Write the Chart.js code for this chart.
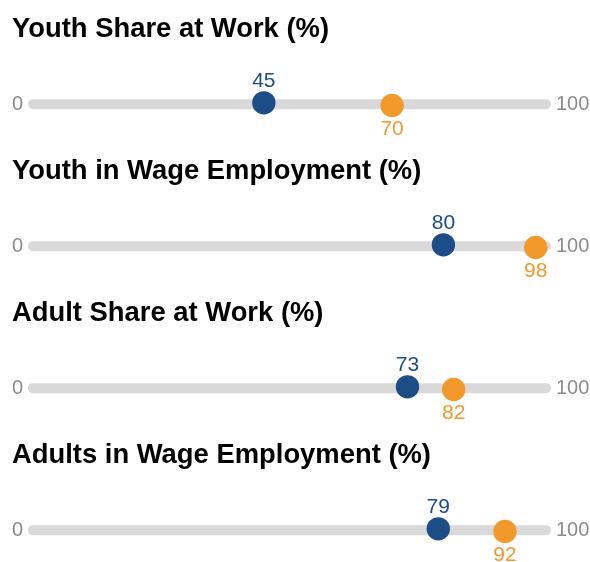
<!DOCTYPE html>
<html>
<head>
<meta charset="utf-8">
<script src="https://cdn.jsdelivr.net/npm/chart.js@4"></script>
<style>
  html, body { margin: 0; padding: 0; background: #fff; overflow: hidden; }
  .panel { position: relative; width: 590px; height: 142px; }
  .panel h2 {
    position: absolute; left: 12px; top: 10px; margin: 0;
    font: bold 27.4px "Liberation Sans", Arial, sans-serif; color: #000;
    line-height: 36px; white-space: nowrap;
  }
  canvas { display: block; }
</style>
</head>
<body>
<div id="wrap"></div>
<script>
const panelTitles = [
  'Youth Share at Work (%)',
  'Youth in Wage Employment (%)',
  'Adult Share at Work (%)',
  'Adults in Wage Employment (%)',
];
const blueValues = [45, 80, 73, 79];
const orangeValues = [70, 98, 82, 92];
const axisMin = 0;
const axisMax = 100;

const BLUE = '#1c4d86';
const ORANGE = '#f2992b';
const TRACK = '#d9d9d9';
const FONT = '"Liberation Sans", Arial, sans-serif';

// draws the 0 / 100 end labels and the value labels next to each dot
const labelPlugin = {
  id: 'dotLabels',
  afterDatasetsDraw(chart) {
    const { ctx, scales } = chart;
    const yMid = scales.y.getPixelForValue(0);
    ctx.save();
    ctx.textBaseline = 'middle';
    ctx.font = '20px ' + FONT;
    ctx.fillStyle = '#8c8c8c';
    ctx.textAlign = 'right';
    ctx.fillText(String(axisMin), scales.x.getPixelForValue(axisMin) - 10, yMid);
    ctx.textAlign = 'left';
    ctx.fillText(String(axisMax), scales.x.getPixelForValue(axisMax) + 10, yMid);

    ctx.font = '21px ' + FONT;
    ctx.textAlign = 'center';
    [1, 2].forEach((di) => {
      const ds = chart.data.datasets[di];
      const el = chart.getDatasetMeta(di).data[0];
      ctx.fillStyle = ds.backgroundColor;
      const off = ds.labelAbove ? -22 : 24;
      ctx.fillText(String(ds.data[0].x), el.x, el.y + off);
    });
    ctx.restore();
  },
};

const wrap = document.getElementById('wrap');

panelTitles.forEach((title, i) => {
  const panel = document.createElement('div');
  panel.className = 'panel';
  const h = document.createElement('h2');
  h.textContent = title;
  const canvas = document.createElement('canvas');
  canvas.width = 590;
  canvas.height = 142;
  panel.appendChild(canvas);
  panel.appendChild(h);
  wrap.appendChild(panel);

  new Chart(canvas.getContext('2d'), {
    type: 'scatter',
    data: {
      datasets: [
        {
          type: 'line',
          data: [{ x: axisMin, y: 0 }, { x: axisMax, y: 0 }],
          borderColor: TRACK,
          borderWidth: 10,
          borderCapStyle: 'round',
          pointRadius: 0,
          clip: false,
          order: 3,
        },
        {
          data: [{ x: orangeValues[i], y: -0.05 }],
          backgroundColor: ORANGE,
          borderWidth: 0,
          pointRadius: 11.7,
          labelAbove: false,
          clip: false,
          order: 2,
        },
        {
          data: [{ x: blueValues[i], y: 0.05 }],
          backgroundColor: BLUE,
          borderWidth: 0,
          pointRadius: 11.7,
          labelAbove: true,
          clip: false,
          order: 1,
        },
      ],
    },
    options: {
      responsive: false,
      animation: false,
      devicePixelRatio: 1,
      layout: { padding: { left: 33, right: 44, top: 78, bottom: 0 } },
      plugins: { legend: { display: false }, tooltip: { enabled: false } },
      scales: {
        x: { type: 'linear', min: axisMin, max: axisMax, display: false },
        y: { type: 'linear', min: -1, max: 1, display: false },
      },
    },
    plugins: [labelPlugin],
  });
});
</script>
</body>
</html>
